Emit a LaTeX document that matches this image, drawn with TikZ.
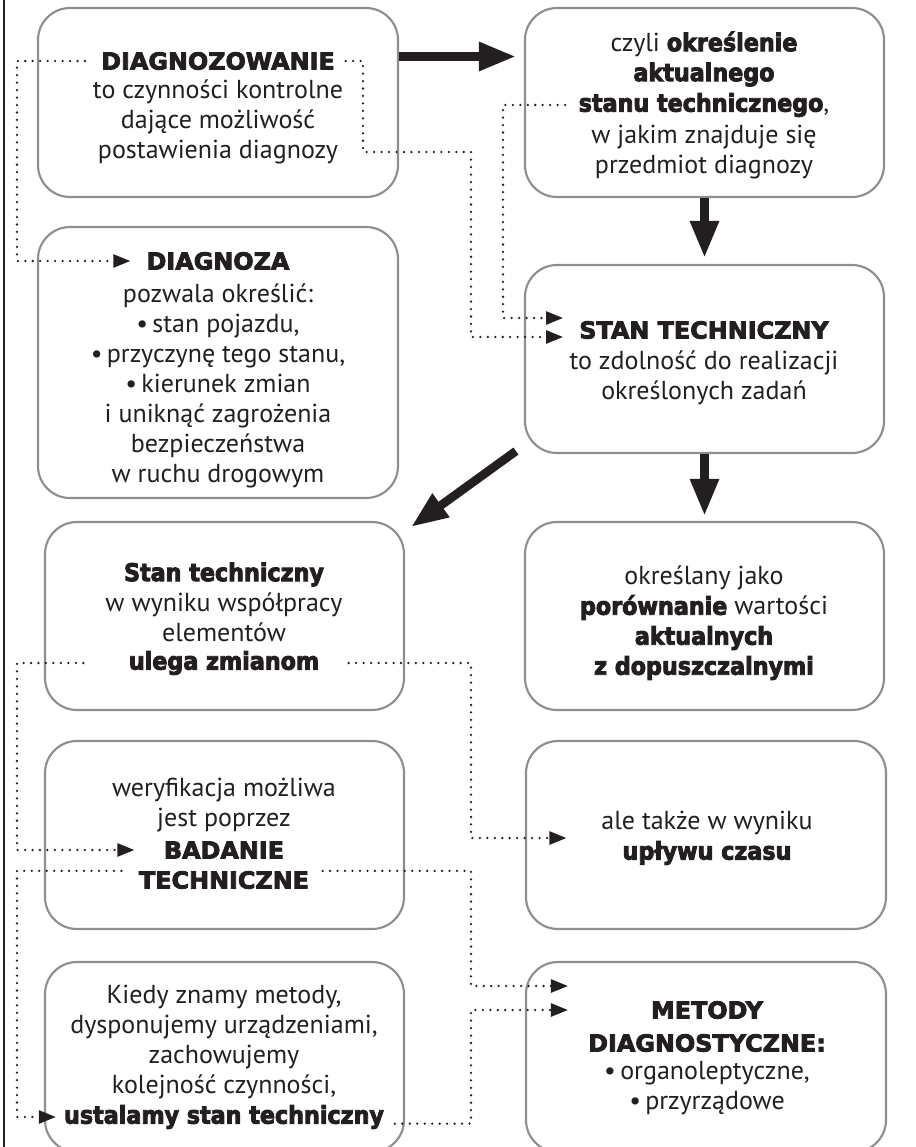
\documentclass[tikz,border=0pt]{standalone}
\usepackage{fontspec}
\setmainfont{PT Sans}
\newfontfamily\heavyfont{DejaVu Sans Bold}[Scale=0.94, FakeBold=3.5, FakeStretch=0.91]
\newfontfamily\capsfont{DejaVu Sans Bold}[Scale=0.9, FakeBold=3.5, FakeStretch=1.02]
\usetikzlibrary{arrows.meta,positioning,calc,fit}
\definecolor{diagink}{HTML}{231F20}
\definecolor{diaggray}{HTML}{8E8E8E}
\newcommand{\hv}[1]{{\heavyfont #1}}

\begin{document}
\begin{tikzpicture}[x=0.75pt, y=-0.75pt,
    cardbox/.style={draw=diaggray, line width=1.6pt, rounded corners=24pt, fill=white, inner sep=0pt},
    txt/.style={align=center, inner sep=0pt, text=diagink, font=\fontsize{19.5}{22.5}\selectfont},
    head/.style={align=center, inner sep=0pt, text=diagink, font=\fontsize{19.5}{22.5}\capsfont},
    bigarrow/.style={-{Triangle[length=27.75pt, width=20.25pt]}, line width=6.5pt, color=diagink},
    dotarrow/.style={-{Triangle[length=12.75pt, width=9.75pt]}, line width=1.9pt, color=diagink, dash pattern=on 0pt off 5.6pt, line cap=round, shorten <=12pt, shorten >=12pt},
]
    \useasboundingbox (0,0) rectangle (915,1147);
    \clip (0,0) rectangle (915,1147);

    % boxes
    \node[cardbox, fit={(38,8) (398,197)}] (boxDiagnozowanie) {};
    \node[cardbox, fit={(525,8) (884,197)}] (boxOkreslenie) {};
    \node[cardbox, fit={(38,227) (398,498)}] (boxDiagnoza) {};
    \node[cardbox, fit={(525,265) (884,453)}] (boxStan) {};
    \node[cardbox, fit={(45,522) (404,710)}] (boxZmiany) {};
    \node[cardbox, fit={(525,522) (884,710)}] (boxPorownanie) {};
    \node[cardbox, fit={(45,741) (404,929)}] (boxBadanie) {};
    \node[cardbox, fit={(526,741) (886,929)}] (boxCzas) {};
    \node[cardbox, fit={(45,962) (404,1152)}] (boxUstalamy) {};
    \node[cardbox, fit={(526,962) (886,1152)}] (boxMetody) {};

    % texts
    \node[head] (tDiagnozowanie) at (218,61) {DIAGNOZOWANIE};
    \node[txt] (tDiagnozowanieOpis) at (218,122) {to czynności kontrolne\\dające możliwość\\postawienia diagnozy};

    \node[txt] (tCzyli) at (704,59) {czyli \hv{określenie}\\\hv{aktualnego}};
    \node[txt] (tStanu) at (704,105) {\hv{stanu technicznego},};
    \node[txt] (tJakim) at (704,152) {w jakim znajduje się\\przedmiot diagnozy};

    \node[head] (tDiagnoza) at (218,261) {DIAGNOZA};
    \node[txt] (tDiagnozaOpis) at (218,386) {pozwala określić:\\•\,stan pojazdu,\\•\,przyczynę tego stanu,\\•\,kierunek zmian\\i uniknąć zagrożenia\\bezpieczeństwa\\w ruchu drogowym};

    \node[head] (tStan) at (704,330) {STAN TECHNICZNY};
    \node[txt] (tStanOpis) at (704,378) {to zdolność do realizacji\\określonych zadań};

    \node[txt] (tStanTech) at (224,602) {\hv{Stan techniczny}\\w wyniku współpracy\\elementów};
    \node[txt] (tUlega) at (224,663) {\hv{ulega zmianom}};

    \node[txt] (tOkreslany) at (704,623) {określany jako\\\hv{porównanie} wartości\\\hv{aktualnych}\\\hv{z dopuszczalnymi}};

    \node[txt] (tWeryfikacja) at (224,805) {weryfikacja możliwa\\jest poprzez};
    \node[head] (tBadanie) at (224,850) {BADANIE};
    \node[head] (tTechniczne) at (224,880) {TECHNICZNE};

    \node[txt] (tTakze) at (707,838) {ale także w wyniku\\\hv{upływu czasu}};

    \node[txt] (tKiedy) at (224,1042) {Kiedy znamy metody,\\dysponujemy urządzeniami,\\zachowujemy\\kolejność czynności,};
    \node[txt] (tUstalamy) at (224,1117) {\hv{ustalamy stan techniczny}};

    \node[head] (tMetody) at (707,1010) {METODY};
    \node[head] (tDiagnostyczne) at (707,1043) {DIAGNOSTYCZNE:};
    \node[txt] (tMetodyLista) at (707,1088) {•\,organoleptyczne,\\•\,przyrządowe};

    % thick arrows
    \draw[bigarrow] ($(boxDiagnozowanie.east)+(0,-46)$) -- ($(boxOkreslenie.west)+(-8,-46)$);
    \draw[bigarrow] (boxOkreslenie.south) -- ($(boxStan.north)+(0,-6)$);
    \draw[bigarrow] (boxStan.south) -- ($(boxPorownanie.north)+(0,-5)$);
    \draw[bigarrow] ($(boxStan.south west)+(-8,-3)$) -- ($(boxZmiany.north east)+(6,6)$);

    % dotted links
    \coordinate (railL) at (17,0);
    \coordinate (railR) at (471,0);
    \coordinate (railMid) at (503,0);
    \coordinate (elbow) at (363,152);

    \draw[dotarrow] (tDiagnozowanie.west) -| (railL |- tDiagnoza.west) -- (tDiagnoza.west);
    \draw[dotarrow, shorten <=8pt] (tDiagnozowanie.east) -| (elbow) -| ($(railR |- tStan.west)+(0,7)$) -- ($(tStan.west)+(0,7)$);
    \draw[dotarrow, shorten <=10pt] (tStanu.west) -| ($(railMid |- tStan.west)+(0,-12)$) -- ($(tStan.west)+(0,-12)$);
    \draw[dotarrow, shorten <=34pt, shorten >=22pt] (tUlega.west) -| (railL |- tBadanie.west) -- (tBadanie.west);
    \draw[dotarrow, shorten <=13pt, shorten >=6pt] (tTechniczne.north west) -| (railL |- tUstalamy.west) -- (tUstalamy.west);
    \draw[dotarrow, shorten <=22pt, shorten >=26pt] (tUlega.east) -| (railR |- tTakze.west) -- (tTakze.west);
    \draw[dotarrow, shorten <=10pt, shorten >=15pt] (tTechniczne.north east) -| ($(railR |- tMetody.west)+(0,-24)$) -- ($(tMetody.west -| tDiagnostyczne.west)+(0,-24)$);
    \draw[dotarrow, shorten <=8pt, shorten >=15pt] (tUstalamy.base east) -| (railR |- tMetody.west) -- (tMetody.west -| tDiagnostyczne.west);

    % page edge
    \draw[line width=1.8pt, color=diagink] (4,0) -- (4,1147);
\end{tikzpicture}
\end{document}
